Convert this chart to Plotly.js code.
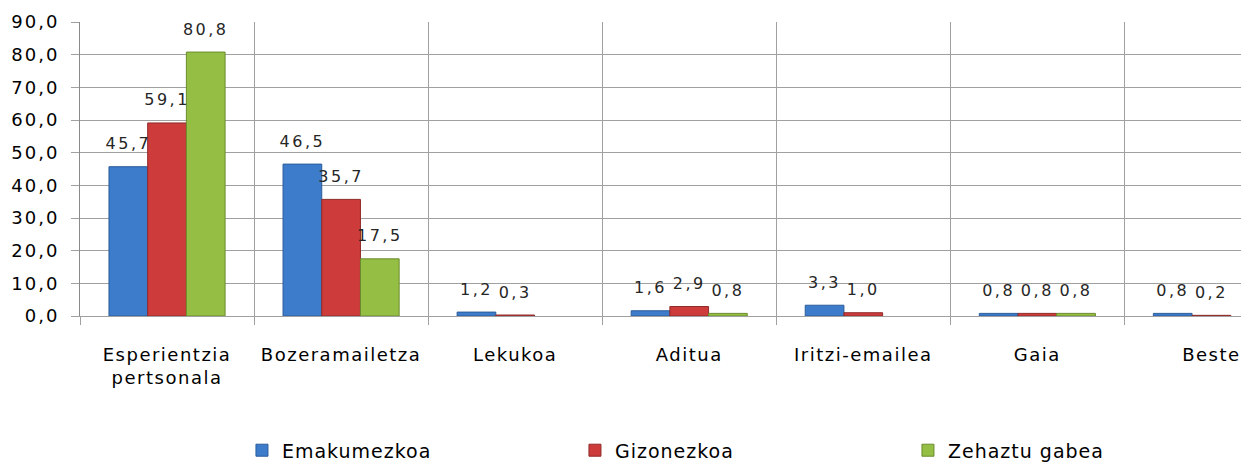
<!DOCTYPE html>
<html>
<head>
<meta charset="utf-8">
<script src="https://cdn.plot.ly/plotly-3.0.1.min.js"></script>
<style>
  html, body { margin: 0; padding: 0; background: #fff; }
  #chart { width: 1247px; height: 464px; }
  #chart .xtick text { letter-spacing: 1.5px; }
  #chart .ytick text { letter-spacing: 2px; }
  #chart .legendtext { letter-spacing: 1px; }
  #chart .textpoint text { letter-spacing: 2.5px; }
</style>
</head>
<body>
<div id="chart"></div>
<script>
const categories = ["Esperientzia<br>pertsonala", "Bozeramailetza", "Lekukoa", "Aditua", "Iritzi-emailea", "Gaia", "Beste"];
const seriesNames = ["Emakumezkoa", "Gizonezkoa", "Zehaztu gabea"];
const emakumezkoa = [45.7, 46.5, 1.2, 1.6, 3.3, 0.8, 0.8];
const gizonezkoa = [59.1, 35.7, 0.3, 2.9, 1.0, 0.8, 0.2];
const zehaztuGabea = [80.8, 17.5, null, 0.8, null, 0.8, null];
const yTicks = [0, 10, 20, 30, 40, 50, 60, 70, 80, 90];

const values = [emakumezkoa, gizonezkoa, zehaztuGabea];
const fills = ["#3D7CCB", "#CD3C3B", "#94BE44"];
const edges = ["#2B5C9A", "#8F2A29", "#6B8C2E"];

const traces = [];
values.forEach((v, i) => {
  traces.push({
    type: "bar",
    name: seriesNames[i],
    x: categories,
    y: v,
    offsetgroup: String(i),
    marker: { color: fills[i], line: { color: edges[i], width: 1 } },
    hoverinfo: "skip"
  });
});
values.forEach((v, i) => {
  traces.push({
    type: "scatter",
    mode: "markers+text",
    x: categories,
    y: v,
    offsetgroup: String(i),
    showlegend: false,
    marker: { size: 20, color: "rgba(0,0,0,0)" },
    texttemplate: "%{y:.1f}",
    textposition: "top center",
    textfont: { family: "DejaVu Sans, Verdana, sans-serif", size: 16, color: "#262626" },
    cliponaxis: false,
    hoverinfo: "skip"
  });
});

const layout = {
  width: 1247,
  height: 464,
  margin: { l: 80, r: 6, t: 22, b: 148, pad: 0, autoexpand: false },
  paper_bgcolor: "#ffffff",
  plot_bgcolor: "#ffffff",
  separators: ",.",
  barmode: "group",
  bargap: 0.333,
  bargroupgap: 0,
  scattermode: "group",
  scattergap: 0.333,
  showlegend: true,
  font: { family: "DejaVu Sans, Verdana, sans-serif", color: "#000000" },
  xaxis: {
    type: "category",
    range: [-0.5, 6.17],
    tickson: "boundaries",
    ticks: "outside",
    ticklen: 8,
    tickcolor: "#A0A0A0",
    tickangle: 0,
    automargin: false,
    showgrid: true,
    gridcolor: "#A0A0A0",
    gridwidth: 1,
    showline: true,
    linecolor: "#A0A0A0",
    linewidth: 1,
    ticklabelstandoff: 22,
    tickfont: { family: "DejaVu Sans, Verdana, sans-serif", size: 18, color: "#000000" },
    fixedrange: true
  },
  yaxis: {
    range: [0, 90],
    tickvals: yTicks,
    tickformat: ".1f",
    ticks: "outside",
    ticklen: 8,
    tickcolor: "#A0A0A0",
    automargin: false,
    showgrid: true,
    gridcolor: "#A0A0A0",
    gridwidth: 1,
    zeroline: false,
    showline: true,
    linecolor: "#8A8A8A",
    linewidth: 1,
    ticklabelstandoff: 8,
    tickfont: { family: "DejaVu Sans, Verdana, sans-serif", size: 18, color: "#000000" },
    fixedrange: true
  },
  legend: {
    orientation: "h",
    x: 0.1395,
    xanchor: "left",
    y: -0.457,
    yanchor: "middle",
    entrywidth: 288,
    entrywidthmode: "pixels",
    itemwidth: 30,
    font: { family: "DejaVu Sans, Verdana, sans-serif", size: 19, color: "#000000" },
    bgcolor: "rgba(0,0,0,0)"
  }
};

Plotly.newPlot("chart", traces, layout, { displayModeBar: false, staticPlot: true });
</script>
</body>
</html>
